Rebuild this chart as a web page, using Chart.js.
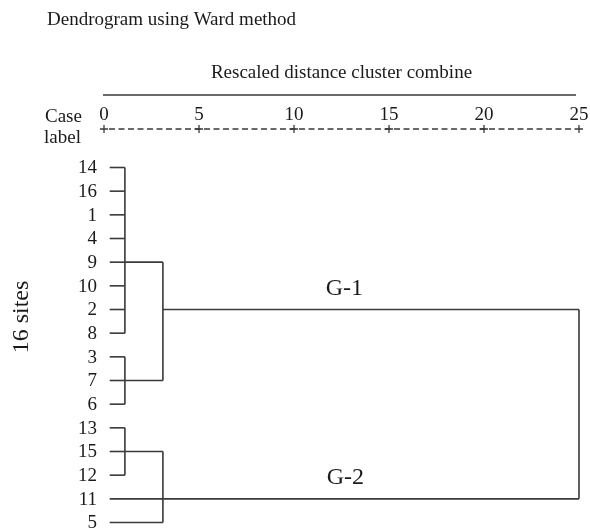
<!DOCTYPE html>
<html>
<head>
<meta charset="utf-8">
<script src="https://cdn.jsdelivr.net/npm/chart.js@4/dist/chart.umd.min.js"></script>
<style>
  html, body { margin: 0; padding: 0; background: #fff; }
  #wrap { width: 590px; height: 530px; }
</style>
</head>
<body>
<div id="wrap"><canvas id="c" width="590" height="530"></canvas></div>
<script>
// ---- data ----
const caseLabels = ['14','16','1','4','9','10','2','8','3','7','6','13','15','12','11','5'];
const leafParent = [0,0,0,0,0,0,0,0,1,1,1,2,2,2,4,4];
const joinDistance = [1.1, 1.1, 1.1, 3.1, 3.1, 25];
const joinParent = [3, 3, 4, 5, 5, -1];
const joinOutRow = [4, 9, 12, 6, 14, null];
const leafDistance = 0.3;
const xTicks = [0, 5, 10, 15, 20, 25];
const groupLabels = ['G-1', 'G-2'];

// ---- build segments from the linkage ----
const segs = [];
caseLabels.forEach((lab, r) => {
  segs.push([{x: leafDistance, y: r}, {x: joinDistance[leafParent[r]], y: r}]);
});
joinDistance.forEach((d, j) => {
  const rows = [];
  leafParent.forEach((p, r) => { if (p === j) rows.push(r); });
  joinParent.forEach((p, k) => { if (p === j) rows.push(joinOutRow[k]); });
  segs.push([{x: d, y: Math.min(...rows)}, {x: d, y: Math.max(...rows)}]);
  if (joinParent[j] >= 0) {
    segs.push([{x: d, y: joinOutRow[j]}, {x: joinDistance[joinParent[j]], y: joinOutRow[j]}]);
  }
});

const LINE = '#3a3a3a';
const TEXT = '#1a1a1a';
const SERIF = '"Liberation Serif", "Times New Roman", serif';

const datasets = segs.map(s => ({
  data: s, showLine: true, borderColor: LINE, borderWidth: 1.6,
  pointRadius: 0, pointHoverRadius: 0, fill: false, clip: false, tension: 0
}));

const deco = {
  id: 'deco',
  afterDraw(chart) {
    const ctx = chart.ctx;
    const xs = chart.scales.x;
    const ys = chart.scales.y;
    const x0 = xs.getPixelForValue(0), x25 = xs.getPixelForValue(25);
    ctx.save();
    ctx.fillStyle = TEXT;
    ctx.strokeStyle = LINE;
    ctx.textBaseline = 'alphabetic';
    // title
    ctx.font = '19px ' + SERIF;
    ctx.textAlign = 'left';
    ctx.fillText('Dendrogram using Ward method', 47, 25);
    // axis caption
    ctx.textAlign = 'center';
    ctx.fillText('Rescaled distance cluster combine', (x0 + x25) / 2, 78);
    // solid rule
    ctx.lineWidth = 1.3;
    ctx.beginPath();
    ctx.moveTo(x0 - 1, 95);
    ctx.lineTo(x25 - 3, 95);
    ctx.stroke();
    // Case label
    ctx.textAlign = 'left';
    ctx.fillText('Case', 45, 122);
    ctx.fillText('label', 44, 143);
    // tick numbers
    ctx.textAlign = 'center';
    xTicks.forEach(v => ctx.fillText(String(v), xs.getPixelForValue(v), 120));
    // dashed axis with + marks
    const ay = 129;
    ctx.lineWidth = 1.3;
    ctx.setLineDash([6, 3.5]);
    ctx.beginPath();
    ctx.moveTo(x0 + 5, ay);
    ctx.lineTo(x25 - 4, ay);
    ctx.stroke();
    ctx.setLineDash([]);
    xTicks.forEach(v => {
      const px = xs.getPixelForValue(v);
      ctx.beginPath();
      ctx.moveTo(px - 4, ay); ctx.lineTo(px + 4, ay);
      ctx.moveTo(px, ay - 4); ctx.lineTo(px, ay + 4);
      ctx.stroke();
    });
    // case labels at each leaf row
    ctx.font = '19px ' + SERIF;
    ctx.textAlign = 'right';
    ctx.textBaseline = 'middle';
    caseLabels.forEach((lab, r) => ctx.fillText(lab, x0 - 7, ys.getPixelForValue(r) + 1));
    ctx.textBaseline = 'alphabetic';
    // vertical side label
    ctx.save();
    ctx.font = '24px ' + SERIF;
    ctx.translate(28, 317);
    ctx.rotate(-Math.PI / 2);
    ctx.textAlign = 'center';
    ctx.fillText('16 sites', 0, 0);
    ctx.restore();
    // group labels
    ctx.font = '24px ' + SERIF;
    ctx.textAlign = 'center';
    ctx.fillText(groupLabels[0], xs.getPixelForValue(12.65), ys.getPixelForValue(joinOutRow[3]) - 15);
    ctx.fillText(groupLabels[1], xs.getPixelForValue(12.7), ys.getPixelForValue(joinOutRow[4]) - 15);
    ctx.restore();
  }
};

new Chart(document.getElementById('c'), {
  type: 'scatter',
  data: { datasets },
  options: {
    responsive: false,
    animation: false,
    devicePixelRatio: 1,
    layout: { padding: { top: 167.5, left: 104, right: 11, bottom: 7.5 } },
    plugins: { legend: { display: false }, tooltip: { enabled: false }, title: { display: false } },
    scales: {
      x: { type: 'linear', min: 0, max: 25, display: false },
      y: { type: 'linear', reverse: true, min: 0, max: 15, display: false }
    }
  },
  plugins: [deco]
});
</script>
</body>
</html>
